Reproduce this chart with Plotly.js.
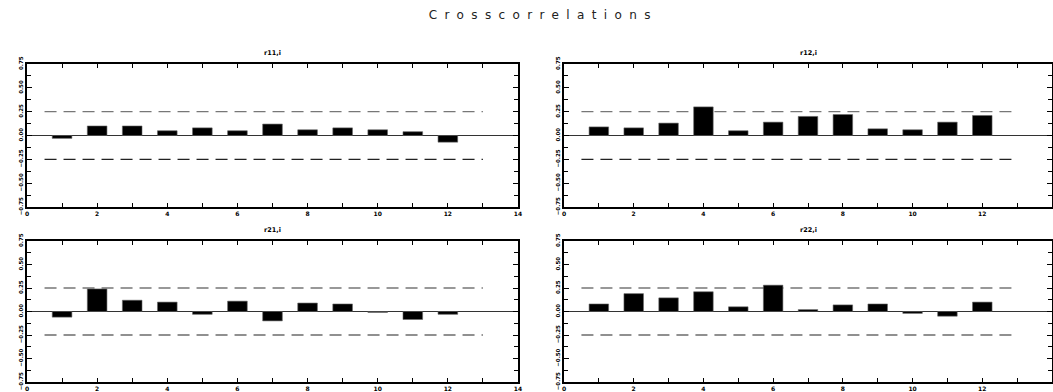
<!DOCTYPE html>
<html>
<head>
<meta charset="utf-8">
<script src="https://cdn.plot.ly/plotly-3.0.1.min.js"></script>
<style>
  html, body { margin: 0; padding: 0; background: #fff; }
  #chart { width: 1053px; height: 392px; }
  .gtitle { letter-spacing: 7.4px; }
</style>
</head>
<body>
<div id="chart"></div>
<script>
// ---- data ----
const lags = [1, 2, 3, 4, 5, 6, 7, 8, 9, 10, 11, 12];
const r11 = [-0.03, 0.10, 0.10, 0.05, 0.08, 0.05, 0.12, 0.06, 0.08, 0.06, 0.04, -0.07];
const r12 = [0.09, 0.08, 0.13, 0.30, 0.05, 0.14, 0.20, 0.22, 0.07, 0.06, 0.14, 0.21];
const r21 = [-0.06, 0.24, 0.12, 0.10, -0.03, 0.11, -0.10, 0.09, 0.08, -0.01, -0.085, -0.03];
const r22 = [0.08, 0.19, 0.145, 0.21, 0.05, 0.28, 0.02, 0.07, 0.08, -0.02, -0.05, 0.10];
const panelTitles = ["r11,i", "r12,i", "r21,i", "r22,i"];
const bandX = [0.5, 13];
const bandUpper = 0.25;
const bandLower = -0.25;
const chartTitle = "Crosscorrelations";

const series = [r11, r12, r21, r22];

// ---- layout geometry ----
const W = 1053, H = 392;
const colX = [[27, 518], [564, 1052]];
const rowY = [[64, 207], [241, 382]];
const px = v => v / W;
const py = v => 1 - v / H;

const traces = [];
const layout = {
  width: W, height: H,
  margin: {l: 0, r: 0, t: 0, b: 0},
  paper_bgcolor: '#fff', plot_bgcolor: '#fff',
  showlegend: false,
  bargap: 0,
  title: {
    text: chartTitle,
    x: 0.516, xanchor: 'center',
    y: py(15), yanchor: 'middle',
    font: {family: 'DejaVu Sans', size: 12, color: '#222'}
  },
  annotations: [],
  shapes: []
};

series.forEach((vals, i) => {
  const r = Math.floor(i / 2), c = i % 2;
  const n = i + 1;
  const xa = 'x' + (n === 1 ? '' : n);
  const ya = 'y' + (n === 1 ? '' : n);
  traces.push({
    type: 'bar', x: lags, y: vals, xaxis: xa, yaxis: ya,
    width: 0.56,
    marker: {color: '#000', line: {color: '#666', width: 0.6}},
    hoverinfo: 'x+y'
  });
  // confidence bands, drawn under the bars through the axes' own scales
  layout.shapes.push({
    type: 'line', xref: xa, yref: ya, layer: 'below',
    x0: bandX[0], x1: bandX[1], y0: bandUpper, y1: bandUpper,
    line: {color: '#777', width: 1.3, dash: '12px,7px'}
  });
  layout.shapes.push({
    type: 'line', xref: xa, yref: ya, layer: 'below',
    x0: bandX[0], x1: bandX[1], y0: bandLower, y1: bandLower,
    line: {color: '#222', width: 1.1, dash: '12px,7px'}
  });
  const axKey = n === 1 ? '' : String(n);
  layout['xaxis' + axKey] = {
    domain: [px(colX[c][0]), px(colX[c][1])],
    anchor: ya,
    range: [0, 14],
    tickmode: 'linear', tick0: 0, dtick: 2,
    ticks: 'inside', ticklen: 4, tickwidth: 1, tickcolor: '#000',
    minor: {dtick: 1, ticks: 'inside', ticklen: 4, tickwidth: 1, tickcolor: '#000'},
    showline: true, linewidth: 2, linecolor: '#000', mirror: 'ticks',
    showgrid: false, zeroline: false,
    tickfont: {family: 'DejaVu Sans', size: 6, color: '#000', weight: 'bold'},
    fixedrange: true
  };
  layout['yaxis' + axKey] = {
    domain: [py(rowY[r][1]), py(rowY[r][0])],
    anchor: xa,
    range: [-0.75, 0.75],
    tickmode: 'linear', tick0: -0.75, dtick: 0.25,
    tickformat: '.2f', tickangle: -90,
    ticks: 'inside', ticklen: 5, tickwidth: 1, tickcolor: '#000',
    minor: {dtick: 0.125, ticks: 'inside', ticklen: 4, tickwidth: 1, tickcolor: '#000'},
    showline: true, linewidth: 2, linecolor: '#000', mirror: 'ticks',
    showgrid: false,
    zeroline: true, zerolinecolor: '#333', zerolinewidth: 1,
    tickfont: {family: 'DejaVu Sans', size: 5.5, color: '#000', weight: 'bold'},
    fixedrange: true
  };
  layout.annotations.push({
    text: panelTitles[i], xref: 'paper', yref: 'paper',
    x: px((colX[c][0] + colX[c][1]) / 2), y: py(rowY[r][0] - 11),
    xanchor: 'center', yanchor: 'middle', showarrow: false,
    font: {family: 'DejaVu Sans', size: 6.5, color: '#000', weight: 'bold'}
  });
});

Plotly.newPlot('chart', traces, layout, {displayModeBar: false, staticPlot: true});
</script>
</body>
</html>
